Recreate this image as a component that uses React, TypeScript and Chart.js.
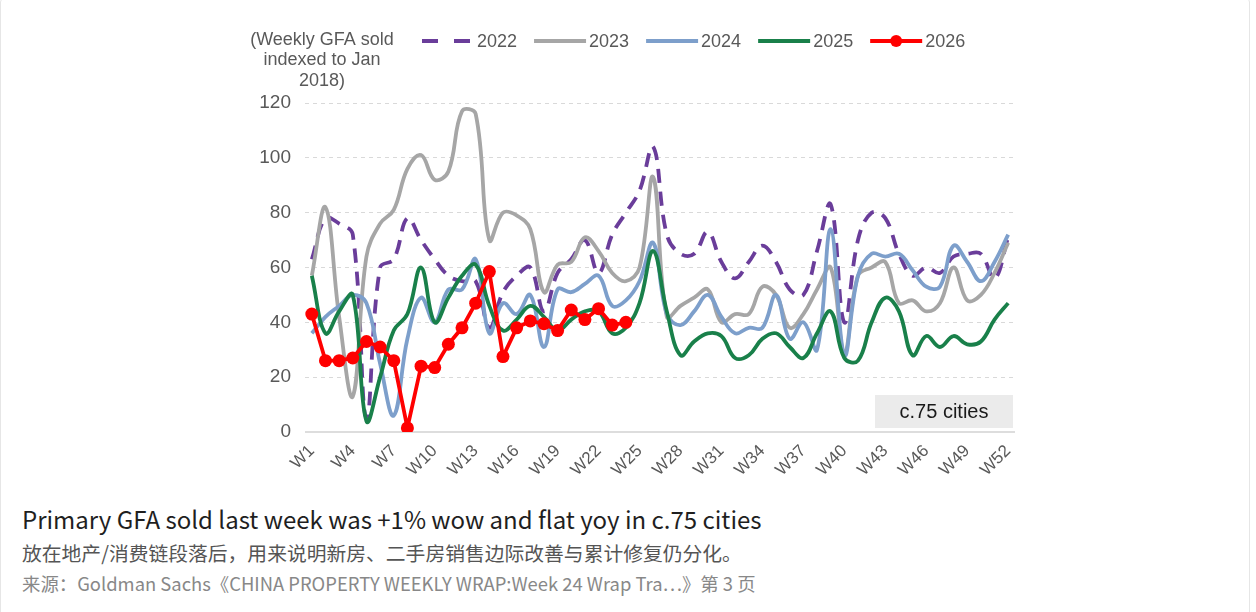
import React, { useEffect, useRef } from "react";
import { Chart, registerables } from "chart.js";

Chart.register(...registerables);

const weeks = [
  "W1", "W2", "W3", "W4", "W5", "W6", "W7", "W8", "W9", "W10",
  "W11", "W12", "W13", "W14", "W15", "W16", "W17", "W18", "W19", "W20",
  "W21", "W22", "W23", "W24", "W25", "W26", "W27", "W28", "W29", "W30",
  "W31", "W32", "W33", "W34", "W35", "W36", "W37", "W38", "W39", "W40",
  "W41", "W42", "W43", "W44", "W45", "W46", "W47", "W48", "W49", "W50",
  "W51", "W52",
];

const series2022 = [
  63, 78, 76, 72, 5, 60, 63, 78, 70, 63,
  57, 55, 55, 38, 51, 57, 60, 44, 58, 63,
  70, 58, 72, 80, 88, 104, 72, 65, 65, 73,
  62, 56, 62, 68, 62, 52, 50, 66, 83, 40,
  70, 80, 78, 65, 57, 60, 58, 64, 65, 65,
  56, 71,
];

const series2023 = [
  57, 82, 42, 13, 64, 76, 81, 96, 101, 92,
  95, 117, 116, 70, 80, 79, 74, 51, 61, 62,
  71, 66, 58, 55, 60, 93, 42, 46, 49, 52,
  40, 43, 43, 53, 50, 38, 43, 52, 60, 29,
  57, 60, 62, 47, 48, 44, 47, 60, 48, 50,
  58, 69,
];

const series2024 = [
  36, 42, 46, 50, 47, 25, 6, 34, 49, 40,
  52, 52, 63, 36, 47, 43, 50, 31, 52, 51,
  54, 57, 46, 48, 55, 69, 43, 39, 44, 50,
  42, 36, 38, 38, 50, 34, 40, 30, 74, 28,
  57, 65, 64, 65, 59, 53, 53, 68, 62, 55,
  62, 72,
];

const series2025 = [
  57, 36, 44, 50, 4, 20, 37, 43, 60, 40,
  49, 57, 61, 46, 37, 41, 46, 42, 37, 41,
  44, 44, 36, 38, 47, 66, 44, 28, 33, 36,
  35, 27, 28, 34, 36, 31, 27, 36, 44, 27,
  26, 40, 49, 44, 28, 35, 31, 35, 32, 33,
  41, 47,
];

const series2026 = [
  43, 26, 26, 27, 33, 31, 26, 1.5, 24, 23.5,
  32, 38, 47, 58.5, 27.5, 38, 40.5, 39.5, 37, 44.5,
  41, 45, 39, 40,
];

const seriesNames = ["2022", "2023", "2024", "2025", "2026"];
const seriesColors = ["#6A3D9A", "#A6A6A6", "#7D9FCB", "#19804A", "#FF0000"];

const yTickValues = [0, 20, 40, 60, 80, 100, 120];
const axisTitleLines = ["(Weekly GFA sold", "indexed to Jan", "2018)"];
const boxLabel = "c.75 cities";

const titleText = "Primary GFA sold last week was +1% wow and flat yoy in c.75 cities";
const noteText = "放在地产/消费链段落后，用来说明新房、二手房销售边际改善与累计修复仍分化。";
const sourceText = "来源：Goldman Sachs《CHINA PROPERTY WEEKLY WRAP:Week 24 Wrap Tra…》第 3 页";

const FONT = '"Liberation Sans", Arial, sans-serif';
const TEXT_GREY = "#595959";

const overlayPlugin = {
  id: "overlayPlugin",
  beforeDatasetsDraw(chart: any) {
    const { ctx, chartArea } = chart;
    ctx.save();
    const w = 138;
    const h = 33;
    const x = chartArea.right - 2 - w;
    const y = chartArea.bottom - 4 - h;
    ctx.fillStyle = "#EBEBEB";
    ctx.fillRect(x, y, w, h);
    ctx.fillStyle = "#1a1a1a";
    ctx.font = `20px ${FONT}`;
    ctx.textAlign = "center";
    ctx.textBaseline = "middle";
    ctx.fillText(boxLabel, x + w / 2, y + h / 2 + 1);
    ctx.restore();
  },
  afterDraw(chart: any) {
    const { ctx, chartArea } = chart;
    ctx.save();
    ctx.font = `18px ${FONT}`;
    ctx.fillStyle = TEXT_GREY;
    ctx.textAlign = "center";
    ctx.textBaseline = "middle";
    axisTitleLines.forEach((t, i) => {
      ctx.fillText(t, chartArea.left + 17, 40 + i * 20.5);
    });

    // legend
    let lx = chartArea.left + 117;
    const ly = 41;
    const sampleW = 52;
    seriesNames.forEach((name, i) => {
      const color = seriesColors[i];
      ctx.save();
      ctx.strokeStyle = color;
      ctx.lineWidth = 4;
      ctx.lineCap = "butt";
      if (i === 0) ctx.setLineDash([16, 16]);
      ctx.beginPath();
      ctx.moveTo(lx, ly);
      ctx.lineTo(lx + sampleW - (i === 0 ? 4 : 0), ly);
      ctx.stroke();
      ctx.setLineDash([]);
      if (i === 4) {
        ctx.fillStyle = color;
        ctx.beginPath();
        ctx.arc(lx + sampleW / 2, ly, 6, 0, Math.PI * 2);
        ctx.fill();
      }
      ctx.restore();
      ctx.fillStyle = TEXT_GREY;
      ctx.textAlign = "left";
      ctx.fillText(name, lx + sampleW + 3, ly + 1);
      const tw = ctx.measureText(name).width;
      lx += sampleW + 3 + tw + 17;
    });
    ctx.restore();
  },
};

export default function App() {
  const canvasRef = useRef<HTMLCanvasElement | null>(null);

  useEffect(() => {
    const canvas = canvasRef.current;
    if (!canvas) return;
    const data = [series2022, series2023, series2024, series2025, series2026];
    const datasets = data.map((vals, i) => {
      const isRed = i === 4;
      return {
        label: seriesNames[i],
        data: vals,
        borderColor: seriesColors[i],
        backgroundColor: seriesColors[i],
        borderWidth: 3.8,
        borderDash: i === 0 ? [14, 9] : [],
        tension: isRed ? 0 : 0.4,
        pointRadius: isRed ? 6.5 : 0,
        pointHoverRadius: isRed ? 6.5 : 0,
        pointBackgroundColor: seriesColors[i],
        pointBorderWidth: 0,
        fill: false,
        order: 5 - i,
        spanGaps: false,
      };
    });

    const chart = new Chart(canvas, {
      type: "line",
      data: { labels: weeks, datasets },
      options: {
        responsive: false,
        animation: false,
        events: [],
        layout: { padding: { left: 240, right: 241, top: 103, bottom: 0 } },
        plugins: {
          legend: { display: false },
          title: { display: false },
          tooltip: { enabled: false },
        },
        scales: {
          x: {
            type: "category",
            offset: true,
            grid: { display: false, drawTicks: false },
            border: { display: false },
            afterFit: (scale: any) => {
              scale.height = 48;
            },
            ticks: {
              autoSkip: false,
              minRotation: 45,
              maxRotation: 45,
              padding: 9,
              color: TEXT_GREY,
              font: { family: FONT, size: 17 },
              callback: (_v: any, idx: number) => (idx % 3 === 0 ? weeks[idx] : ""),
            },
          },
          y: {
            min: 0,
            max: 120,
            afterFit: (scale: any) => {
              scale.width = 65;
            },
            afterBuildTicks: (scale: any) => {
              scale.ticks = yTickValues.map((v) => ({ value: v }));
            },
            grid: {
              drawTicks: false,
              color: (c: any) => (c.tick && c.tick.value === 0 ? "#DDDDDD" : "#D9D9D9"),
              lineWidth: (c: any) => (c.tick && c.tick.value === 0 ? 2 : 1),
            },
            border: {
              display: false,
              dash: (c: any) => (c.tick && c.tick.value === 0 ? [] : [4, 4]),
            },
            ticks: {
              padding: 14,
              color: TEXT_GREY,
              font: { family: FONT, size: 19 },
            },
          },
        },
      },
      plugins: [overlayPlugin],
    } as any);

    return () => {
      chart.destroy();
    };
  }, []);

  const textFont = '"Noto Sans CJK SC", "Noto Sans", sans-serif';

  return (
    <div
      style={{
        position: "fixed",
        left: 0,
        top: 0,
        width: 1256,
        height: 612,
        background: "#ffffff",
        overflow: "hidden",
      }}
    >
      <div
        style={{
          position: "absolute",
          left: 0,
          top: -2,
          width: 1248,
          height: 620,
          border: "1px solid #E6E6E6",
          borderRadius: 4,
        }}
      />
      <canvas
        ref={canvasRef}
        width={1256}
        height={480}
        style={{ position: "absolute", left: 0, top: 0, width: 1256, height: 480 }}
      />
      <div
        style={{
          position: "absolute",
          left: 22,
          top: 504,
          fontFamily: textFont,
          fontSize: 24,
          lineHeight: "30px",
          color: "#1f1f1f",
          whiteSpace: "nowrap",
        }}
      >
        {titleText}
      </div>
      <div
        style={{
          position: "absolute",
          left: 22,
          top: 540,
          fontFamily: textFont,
          fontSize: 19.8,
          lineHeight: "26px",
          color: "#555555",
          whiteSpace: "nowrap",
        }}
      >
        {noteText}
      </div>
      <div
        style={{
          position: "absolute",
          left: 22,
          top: 571,
          fontFamily: textFont,
          fontSize: 18.4,
          lineHeight: "24px",
          color: "#888888",
          whiteSpace: "nowrap",
        }}
      >
        {sourceText}
      </div>
    </div>
  );
}
